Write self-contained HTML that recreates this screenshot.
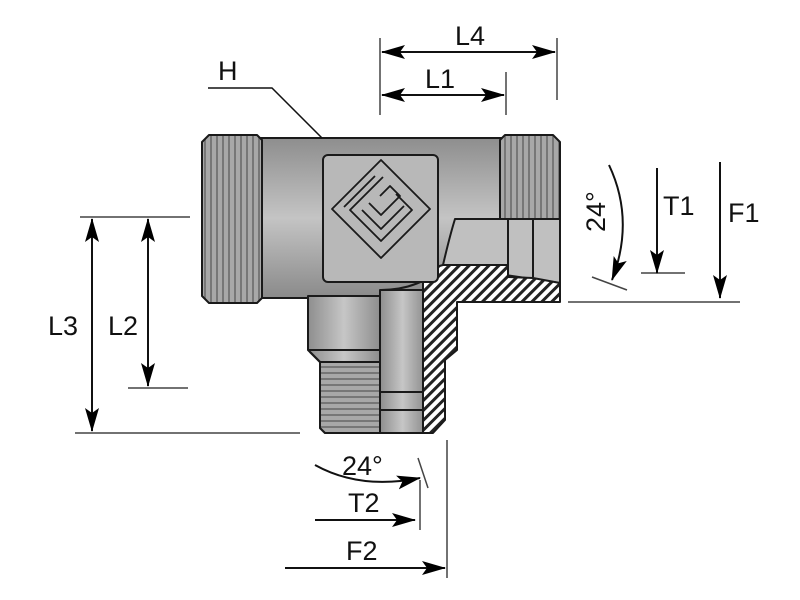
<!DOCTYPE html>
<html><head><meta charset="utf-8"><style>
html,body{margin:0;padding:0;background:#fff;width:800px;height:600px;overflow:hidden}
text{font-family:"Liberation Sans",sans-serif;font-size:27px;fill:#111}
</style></head><body>
<svg width="800" height="600" viewBox="0 0 800 600" xmlns="http://www.w3.org/2000/svg">
<defs>
<linearGradient id="gv" x1="0" y1="0" x2="0" y2="1">
<stop offset="0" stop-color="#8e8e8e"/><stop offset="0.5" stop-color="#c4c4c4"/><stop offset="1" stop-color="#8a8a8a"/></linearGradient>
<linearGradient id="gh" x1="0" y1="0" x2="1" y2="0">
<stop offset="0" stop-color="#8e8e8e"/><stop offset="0.5" stop-color="#c6c6c6"/><stop offset="1" stop-color="#8e8e8e"/></linearGradient>
<pattern id="hatch" width="7" height="7" patternUnits="userSpaceOnUse" patternTransform="rotate(45)">
<rect width="7" height="7" fill="#fff"/><rect width="3" height="7" fill="#222"/></pattern>
<pattern id="thrV" width="6" height="10" patternUnits="userSpaceOnUse">
<rect width="6" height="10" fill="#a8a8a8"/><rect width="2" height="10" fill="#777"/></pattern>
<pattern id="thrH" width="10" height="6" patternUnits="userSpaceOnUse">
<rect width="10" height="6" fill="#a8a8a8"/><rect width="10" height="2" fill="#777"/></pattern>
<marker id="ar" markerWidth="24" markerHeight="16" refX="23" refY="8" orient="auto" markerUnits="userSpaceOnUse">
<path d="M0,1 L24,8 L0,15 L5,8 Z" fill="#000"/></marker>
<marker id="al" markerWidth="24" markerHeight="16" refX="1" refY="8" orient="auto" markerUnits="userSpaceOnUse">
<path d="M24,1 L0,8 L24,15 L19,8 Z" fill="#000"/></marker>
</defs>
<g stroke="#1a1a1a" stroke-width="2" stroke-linejoin="round">
<!-- main body -->
<rect x="258" y="138" width="246" height="160" fill="url(#gv)"/>
<!-- stem -->
<path d="M308,296 L380,296 L380,433 L325,433 L320,428 L320,362 L308,350 Z" fill="url(#gh)"/>
<path d="M310,352 L320,362 L380,362 L380,433 L325,433 L320,428 L320,362" fill="url(#thrH)"/>
<line x1="308" y1="350" x2="380" y2="350"/>
<rect x="380" y="290" width="45" height="143" fill="url(#gh)"/>
<line x1="380" y1="392" x2="425" y2="392"/><line x1="380" y1="410" x2="425" y2="410"/>
<!-- left nut -->
<path d="M209,135 L257,135 L262,140 L262,298 L257,303 L209,303 L202,296 L202,142 Z" fill="url(#thrV)"/>
<!-- right nut -->
<path d="M505,135 L553,135 L560,142 L560,220 L500,220 L500,140 Z" fill="url(#thrV)"/>
<!-- right bore -->
<path d="M455,219 L560,219 L560,283 L505,275 L443,265 Q450,235 455,219 Z" fill="#c0c0c0"/>
<line x1="508" y1="219" x2="508" y2="275"/><line x1="533" y1="219" x2="533" y2="277"/>
<path d="M380,290 Q420,290 445,265" fill="none"/>
<!-- hatched -->
<path d="M423,280 Q430,268 443,265 L508,265 L508,277 L533,278 L560,283 L560,302 L457,302 L457,350 L445,360 L445,420 L433,433 L423,433 Z" fill="url(#hatch)"/>
<!-- logo plate -->
<rect x="323" y="155" width="115" height="127" rx="5" fill="#b8b8b8"/>
<g fill="none" stroke-width="1.8">
<path d="M381,160 L430,209 L381,258 L332,209 Z"/>
<path d="M383,177 L350,210 L381,241 L412,210 L396,194"/>
<path d="M375,176 L344,207"/>
<path d="M369,203 L381,215 L400,196 L390,186 L380,196"/>
<path d="M362,210 L381,229 L404,206"/>
</g>
</g>
<!-- dimension lines -->
<g stroke="#111" stroke-width="2" fill="none">
<polyline points="208,88 272,88 322,138" stroke-width="1.5"/>
<g stroke="#444" stroke-width="1.5">
<line x1="380" y1="38" x2="380" y2="115"/><line x1="557" y1="38" x2="557" y2="100"/><line x1="506" y1="72" x2="506" y2="115"/>
<line x1="80" y1="217" x2="190" y2="217"/><line x1="128" y1="388" x2="188" y2="388"/><line x1="75" y1="433" x2="300" y2="433"/>
<line x1="592" y1="277" x2="627" y2="290"/>
<line x1="641" y1="273" x2="685" y2="273"/>
<line x1="568" y1="302" x2="740" y2="302"/>
<line x1="418" y1="458" x2="428" y2="488"/>
<line x1="420" y1="480" x2="420" y2="530"/>
<line x1="447" y1="440" x2="447" y2="578"/>
</g>
<line x1="382" y1="52" x2="555" y2="52" marker-start="url(#al)" marker-end="url(#ar)"/>
<line x1="382" y1="95" x2="504" y2="95" marker-start="url(#al)" marker-end="url(#ar)"/>
<line x1="92" y1="219" x2="92" y2="431" marker-start="url(#al)" marker-end="url(#ar)"/>
<line x1="148" y1="219" x2="148" y2="386" marker-start="url(#al)" marker-end="url(#ar)"/>
<path d="M609,165 Q635,220 612,280" marker-end="url(#ar)"/>
<line x1="657" y1="168" x2="657" y2="273" marker-end="url(#ar)"/>
<line x1="720" y1="162" x2="720" y2="298" marker-end="url(#ar)"/>
<path d="M315,465 Q360,490 420,478" marker-end="url(#ar)"/>
<line x1="315" y1="520" x2="415" y2="520" marker-end="url(#ar)"/>
<line x1="285" y1="568" x2="445" y2="568" marker-end="url(#ar)"/>
</g>
<text x="218" y="80">H</text>
<text x="455" y="45">L4</text>
<text x="425" y="88">L1</text>
<text x="48" y="335">L3</text>
<text x="108" y="335">L2</text>
<text x="663" y="215">T1</text>
<text x="728" y="222">F1</text>
<text transform="translate(605,232) rotate(-90)">24°</text>
<text x="342" y="475">24°</text>
<text x="348" y="512">T2</text>
<text x="346" y="560">F2</text>
</svg>
</body></html>
